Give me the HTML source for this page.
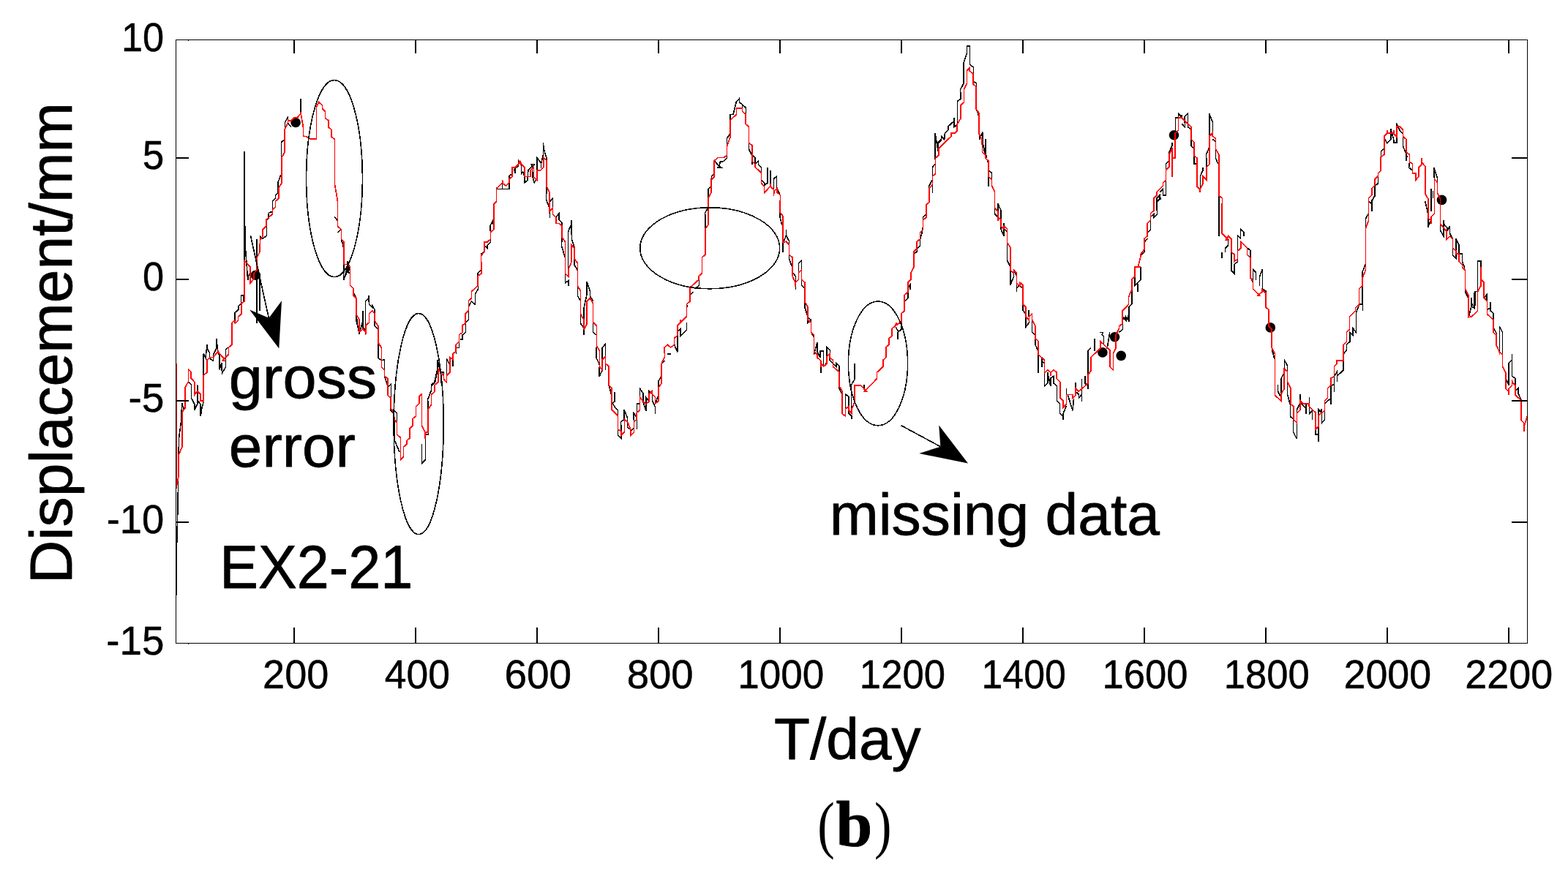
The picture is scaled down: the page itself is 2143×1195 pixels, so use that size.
<!DOCTYPE html>
<html lang="en"><head><meta charset="utf-8"><title>Displacement EX2-21 (b)</title>
<style>html,body{margin:0;padding:0;background:#fff}body{width:2143px;height:1195px;overflow:hidden}svg{display:block}text{font-family:"Liberation Sans",sans-serif;fill:#000;stroke:#000;stroke-width:0.8px;stroke-linejoin:round}.tk{stroke-width:0.5px}.serif{font-family:"Liberation Serif",serif}</style>
</head><body>
<svg role="img" aria-label="Displacement versus time for EX2-21" width="2143" height="1195" viewBox="0 0 2143 1195">
<rect x="0" y="0" width="2143" height="1195" fill="#fff"/>
<g fill="none" stroke="#000" stroke-width="1.6" stroke-linejoin="miter" stroke-linecap="butt" shape-rendering="crispEdges">
<polyline points="241,814 241.5,750 243,693 244.5,600 247.4,577 248.8,551"/>
<polyline points="248.9,551.1 250.8,559.5 252.9,556.7"/>
<polyline points="257.4,522.2 261.3,525.8 261.3,544 265.9,552.5 265.9,560.9 269.7,552.5 269.7,526.5 270.4,548.2 274.2,552.5 274.2,569.3 276.1,556.7 278.2,549.7"/>
<polyline points="278.2,513.1 278.2,483.6 281,489.2 283.1,470.9 283.8,478 286.6,482.2 286.6,489.9 291.5,493.4 291.5,485 295.7,476.6 295.7,463.2 297.9,480.8 300,486.4 300,505.4 302.8,496.2 303.5,510.3 308.4,501.9 308.4,478 311.9,475.1"/>
<polyline points="321.1,441.7 321.1,427.6 325.8,423.4 325.8,419.2 329.6,415 329.6,403.7 333.1,403.7 333.1,412.1"/>
<polyline points="334.2,207.2 334.2,357"/>
<polyline points="334.2,280 335.2,336.2 338.7,382.6 338.7,378.4 342.2,372.8"/>
<polyline points="350.7,327.1 350.7,441.7"/>
<polyline points="352.8,370 354.9,381.2 354.9,424.8"/>
<polyline points="355.6,327.8 355.6,322.9 359.1,326.4 364.3,322.2 364.3,301.1 366.8,298.3 367.5,290.5 372.5,289.8 372.5,280"/>
<polyline points="457.2,296.6 461.4,301.8"/>
<polyline points="461.4,318 466.4,313.7"/>
<polyline points="466.4,328.5 468.8,333.4 468.8,337.6"/>
<polyline points="475.1,356.6 475.1,364.3 469.5,383.3 477.2,364.3 478.6,371.4"/>
<polyline points="487,430.4 489.1,448"/>
<polyline points="495.5,424.8 495.5,448"/>
<polyline points="372.5,288 372.5,274.6 376.4,271.1 376.4,266.9 380.2,263.4 380.2,248.6 383.7,239.5"/>
<polyline points="384.4,214.9 384.4,194.5 389.3,190.3"/>
<polyline points="389.3,176.2 389.3,167.8 393.5,159.4 393.5,168.5 397.8,173.4"/>
<polyline points="410.7,134.8 410.7,153"/>
<polyline points="470.1,361.4 469.4,383.2 474.3,368.4 477.1,374.1 475,364.2"/>
<polyline points="482.7,399.4 486.9,407.8"/>
<polyline points="486.9,429.6 486.9,438.7 491.1,455.6 495.8,439.4 495.8,424.7 495.8,447.9 499.6,451.4 499.6,412 503.8,407.8 503.8,403.6 504.5,416.2 508.7,420.4 508.3,416.2 512.2,424 512.2,428.9"/>
<polyline points="512.2,438.7 512.2,445.8 516.7,450"/>
<polyline points="516.7,468.2 516.7,489.3 521.4,492.8 525.6,491.4 525.6,506.2"/>
<polyline points="525.6,514.6 530.1,528"/>
<polyline points="530.1,529.5 534.3,525.3 534.3,543.6"/>
<polyline points="533.7,557.6 533.7,561.2 538.2,565.4 538.2,560.4 542.5,564.7 542.5,577.3"/>
<polyline points="538.9,573.8 538.9,601.2 546,618.1"/>
<polyline points="576.5,606.8 576.5,633.6 581.5,628.6 581.5,599.8"/>
<polyline points="581.8,594.2 585.3,594.2 585.3,591.4"/>
<polyline points="585.3,559 584.6,546.4 589.6,533 589.6,526 593.8,522.5 598,504.2"/>
<polyline points="589.6,528 594.5,523.1 598,504.8 598,492.1 600.1,500.6 602.2,509 606.4,509 606.4,513.9"/>
<polyline points="602.2,509 603.6,528"/>
<polyline points="610.6,513.2 610.6,491.4 614.9,498.5 614.9,488.6"/>
<polyline points="619.1,483.7 619.1,501.3"/>
<polyline points="623.3,480.2 623.3,484.4"/>
<polyline points="624,475.3 627.5,475.3 627.5,467.5"/>
<polyline points="628.9,464 631.7,464 631.7,458.4 636.4,454.2 636.4,442.2"/>
<polyline points="636.4,440.8 640.4,437.3 640.4,424.7"/>
<polyline points="640.4,419 644.4,412 649.3,416.2 649.3,402.2 653.5,395.1 653.5,390.9"/>
<polyline points="652.8,377.6 652.8,373.4 657.7,369.1"/>
<polyline points="657.4,349.7 657.4,347.6 661.3,344.1"/>
<polyline points="661.7,335 666.2,339.9 666.2,335.7 670.4,331.4 670.4,327.2"/>
<polyline points="670.4,317.4 669.7,309 674,301.2 674.7,313.9"/>
<polyline points="678.6,258.3 695.7,258.3 695.7,249.9"/>
<polyline points="686.6,249.9 686.6,258.3"/>
<polyline points="695.7,245 695.7,240.8 699.3,238"/>
<polyline points="704.2,228.8 704.2,237.3 702.8,231.6 708.4,226.7 708.4,219.7 712.6,226 712.6,237.3 714.7,235.1 716.8,241.5 716.8,249.9 721.1,246.4 721.8,233 727.4,226.7 726,224.6 730.2,224.6 727.4,229.5 728.1,242.2 730.2,249.9 733.7,243.6"/>
<polyline points="733.7,233 733.7,215.5 739.3,222.5 739.3,230.2"/>
<polyline points="740,222.5 742.4,211.2 742.4,195.2 743.1,202.8 745,209.8 747.1,216.9 747.1,219.7"/>
<polyline points="747.1,255.5 746.4,272.4 749.9,281.5 751.3,275.9 755.5,271 755.5,284.3"/>
<polyline points="751.3,289.3 751.3,297.7"/>
<polyline points="759.7,297 763.9,292.1 763.9,300.5 768.1,304.7 768.1,309"/>
<polyline points="768.1,324.4 767.4,335.7 772.4,352.5"/>
<polyline points="776.6,368 776.6,316.7 780.8,306.8 780.8,301.2 781.5,327.9 785,337.8"/>
<polyline points="785,353.9 785,361.7 788.5,368"/>
<polyline points="772.4,373.7 772.4,387.1 776.8,383.6 776.8,390.6"/>
<polyline points="784.5,354.1 784.5,361.1 789.1,369.5"/>
<polyline points="789.4,391.3 789.4,404.7 793.6,411.7"/>
<polyline points="793.6,429.3 793.6,442.6 797.9,448.2 797.9,458.1"/>
<polyline points="797.9,437 797.9,422.2 802.1,401.9 802.1,385 806.3,397.6 806.3,404.7 810.5,411.7"/>
<polyline points="810.5,440.5 810.5,453.9 814.7,458.1"/>
<polyline points="815.4,472.8 814.7,489 819.6,498.9 818.9,508"/>
<polyline points="823.2,491.8 823.2,475 827.4,470.7 827.4,505.2"/>
<polyline points="814.7,480 814.7,489.1 818.9,496.9"/>
<polyline points="818.9,501.6 818.9,515.1 823.2,505.9"/>
<polyline points="827.4,497.4 827.4,506"/>
<polyline points="832.3,527.1 836.1,541.9"/>
<polyline points="840,535.5 840,548.9 837.2,551 840.7,557.3 844.5,560.8 844.5,568.6"/>
<polyline points="844.5,587.5 844.5,595.3 849.2,599.5 849.2,594.6"/>
<polyline points="849.2,589.7 848.5,577 853,573.5 853,560.1 857.6,571.4 857.6,584 861.8,587.5"/>
<polyline points="861.8,589.7 866,585.4"/>
<polyline points="866.5,577 865.6,563.6 870.3,571.4 870.3,586.8"/>
<polyline points="870.3,564.3 870.3,551.7 874.5,551.7 874.5,531.3 878.7,537.6 878.7,548.9 882.9,561.5 882.9,543.3 887.1,548.9"/>
<polyline points="887.1,539 887.1,534.8 891.3,539 891.3,547.5 895.6,556.6 895.6,565.8"/>
<polyline points="895.6,551.7 899.1,541.9"/>
<polyline points="900.2,529.9 899.8,521.5 903.3,515.1"/>
<polyline points="904.3,496.9 908.5,493.4"/>
<polyline points="912.4,483.8 916.6,483.8"/>
<polyline points="921.6,471.4 925.8,481.3 925.8,458.8"/>
<polyline points="925.8,453.9 930,449.7 930,459.5 938.4,451.1 938.4,441.2"/>
<polyline points="938.4,415.9 939.8,420.1"/>
<polyline points="942.7,403.3 947.6,399"/>
<polyline points="949.7,394.8 955.3,390.6 955.3,382.2"/>
<polyline points="964,312.9 963.7,291.1 967.5,284.1"/>
<polyline points="967.8,271.1 967.8,258.5 972,254.3"/>
<polyline points="972,245.8 972.7,240.9 976.3,237.4"/>
<polyline points="976.3,219.8 982.3,226.8 982.3,229 980.2,229 985.8,229 983,226.8 984.4,221.2 989.3,220.5 993.5,216.3 993.5,212.1"/>
<polyline points="993.5,200.1 993.5,189.6 998,181.9"/>
<polyline points="998,164.3 998,156.6 1002,156.6 1006.2,139.7 1010.4,134.8 1010.4,139.7 1019.6,147.4 1019.6,155.8"/>
<polyline points="1014.6,148.1 1014.6,143.9"/>
<polyline points="1023.5,195.2 1023.5,204.3 1027.7,212.1 1032.2,215.6 1032.2,224 1036.4,219.8 1036.4,224.7 1040.6,229 1040.6,236.7"/>
<polyline points="1027.7,220.5 1027.7,224.7"/>
<polyline points="1040.6,245.8 1044.9,250.7 1044.9,253.6 1049.1,250 1049.1,229"/>
<polyline points="1052.9,250.7 1052.9,233.2"/>
<polyline points="1057.5,259.2 1057.5,244.4 1061.4,240.9 1061.4,257.8"/>
<polyline points="1061.7,257.8 1065.9,265.5"/>
<polyline points="1065.9,289.7 1065.9,296.7 1068.8,308"/>
<polyline points="1070.2,331.2 1070.2,344.5"/>
<polyline points="1070.4,331.9 1074.4,322 1074.4,314.3 1074.4,322 1078.6,329.7 1078.6,334.7"/>
<polyline points="1078.6,348 1078.6,354.3 1082.8,365.6"/>
<polyline points="1083.1,372.6 1087.3,377.5 1087.3,395.8"/>
<polyline points="1091.5,372.6 1091.5,360 1095.5,355.8 1095.5,369.1"/>
<polyline points="1095.5,382.5 1095.5,390.2 1100,394.4"/>
<polyline points="1100,412.7 1100,421.1 1103.9,433.1 1108.1,437.3"/>
<polyline points="1100,420 1103.9,431.2"/>
<polyline points="1103.9,436.9 1103.9,441.1 1108.4,436.9 1108.4,441.1"/>
<polyline points="1108.4,454.4 1112.6,460.8"/>
<polyline points="1112.6,480.4 1112.6,484.7 1116.8,467.8 1116.8,480.4 1121.1,488.9 1121.1,479.7 1125.6,479.7 1125.6,500.8 1129.5,496.6 1130.2,474.8 1134.4,479 1134.4,484"/>
<polyline points="1121.8,501.5 1121.8,510"/>
<polyline points="1133.7,488.9 1133.7,492.4 1138.6,497.3 1142.8,501.5 1142.8,496.6 1147.1,500.8 1147.1,508.6"/>
<polyline points="1147.1,528.2 1147.1,531.1 1149.9,537.4"/>
<polyline points="1155.5,559.2 1155.5,538.8 1159.7,542.3 1159.7,555.7"/>
<polyline points="1159.7,560.6 1159.7,564.8 1163.9,569 1163.9,573.2"/>
<polyline points="1163.9,564.8 1163.2,526.8 1168.1,518.4 1168.1,496.6"/>
<polyline points="1181.1,526.1 1181.1,531.1"/>
<polyline points="1224.4,447.4 1227.9,453.7 1232.1,450.2 1232.1,441.1"/>
<polyline points="1227.2,453.7 1227.2,463.6"/>
<polyline points="1236.1,412 1240.7,407.8 1240.7,399.3"/>
<polyline points="1240.7,395.1 1244.2,388.8 1244.2,395.8"/>
<polyline points="1249.2,347.3 1253.4,343.8 1253.4,340.3 1257.6,336.1 1257.6,326.9 1260.4,317.1 1260.4,310.8"/>
<polyline points="1261.4,300.9 1261.4,296.7 1265.3,293.2"/>
<polyline points="1274.5,263.5 1274.5,252.5"/>
<polyline points="1269.8,257.6 1269.4,255.1 1274,246.2"/>
<polyline points="1274.5,240.7 1274.5,228.5 1278,224.2"/>
<polyline points="1278.5,216.2 1278.5,190"/>
<polyline points="1281.6,206.9 1281.6,195.1 1286.7,190"/>
<polyline points="1278.1,218 1278.1,182.1 1281.6,203.2 1282.3,195.5 1286.5,192 1286.5,186.4 1290.7,190.6 1291.4,182.1 1295.7,177.9 1295.7,173 1304.1,165.3 1304.1,161.1 1304.1,173.7 1308.3,170.2 1308.3,138.6 1313.2,135.1 1312.5,122.4 1316.7,114.7 1316.7,87.3 1321.4,72.5 1321.4,62.7 1325.5,62.7 1325.5,88 1330.4,92.2 1330.4,100.6"/>
<polyline points="1329.7,110.4 1334.3,114 1334.3,118.2"/>
<polyline points="1333.9,149.1 1337.1,155.4 1337.5,161.1"/>
<polyline points="1338.5,183.6 1338.5,191.3 1342.7,180.7 1342.7,190.6"/>
<polyline points="1342.3,196.2 1347,208.2 1347,189.9 1347,212.4"/>
<polyline points="1343.3,190 1343.7,198.5 1345.9,209.4"/>
<polyline points="1347.5,190 1347.5,211.1 1348.8,216.2"/>
<polyline points="1349.2,222.1 1350.9,220"/>
<polyline points="1351.4,233.1 1355.6,236.5 1355.6,245.4"/>
<polyline points="1350.9,241.5 1350.9,254.6"/>
<polyline points="1359.5,284.8 1359.5,292.5 1363.7,296.7"/>
<polyline points="1363.7,289 1363.7,278.4 1368,287.6 1368,300.2"/>
<polyline points="1368,309.4 1368,313.6 1372.2,322.7 1372.2,305.1 1372.5,312.9 1375.7,316.4"/>
<polyline points="1376.4,331.9 1376.4,355.8 1380.6,364.2"/>
<polyline points="1381.3,369.8 1380.6,390.2 1385.5,378.2 1385.5,368.4 1389,376.8"/>
<polyline points="1389.5,387.4 1389.5,399.3 1389.7,393.7 1393.3,389.5 1397.5,394.4"/>
<polyline points="1398.2,416.2 1397.5,423.2 1401.7,429.6"/>
<polyline points="1405.9,433.1 1405.9,423.9"/>
<polyline points="1397.9,420 1397.9,424.2 1402.2,428.4"/>
<polyline points="1402.2,433.4 1402.2,446.7 1406.4,441.1 1406.4,424.2"/>
<polyline points="1410.6,437.6 1410.6,454.4 1414.8,458"/>
<polyline points="1414.8,462.9 1414.8,470.6 1419,480.4"/>
<polyline points="1419,484.7 1419,510"/>
<polyline points="1424,490.3 1424,502.2 1424,493.1 1427.5,497.3"/>
<polyline points="1427.5,510 1427.5,527.5 1431.7,524 1431.7,509.3 1435.9,528.2 1435.9,517 1440.1,514.2 1440.1,524 1444.3,527.5 1444.3,547.9 1448.6,552.1 1448.6,564.8 1452.8,569 1452.8,573.9 1452.8,566.2 1457.4,555"/>
<polyline points="1457.4,539.5 1457.4,531.1"/>
<polyline points="1459.1,539.5 1466.1,561.3 1467.5,545.1"/>
<polyline points="1470.1,531.1 1470.1,522.6"/>
<polyline points="1470.1,535.3 1474.6,539.5 1474.6,543.7 1478.5,539.5 1478.5,548.6 1478.5,518.4"/>
<polyline points="1483,514.2 1483,524 1486.9,527.5 1486.9,531.8 1486.9,524"/>
<polyline points="1486.9,512.8 1486.9,479.7 1491.4,475.5"/>
<polyline points="1495.7,462.9 1495.7,480.4"/>
<polyline points="1503.4,454.4 1507.6,454.4 1506.2,457.3 1508.6,460.1 1508.6,470.6"/>
<polyline points="1517.2,479 1513.2,476.2 1516,459.4 1516.7,454.4"/>
<polyline points="1529.4,454.4 1534.3,450.2 1534.3,442.5"/>
<polyline points="1534.3,436.9 1538.5,433.4 1542.7,438.3 1542.7,420"/>
<polyline points="1534.5,433.1 1538.7,438 1538.7,433.1 1542.2,438 1542.5,420.4 1547.2,415.5 1547.2,399.3 1546.7,396.5"/>
<polyline points="1550.9,378.2 1550.9,390.9 1559.1,382.5 1559.1,364.9"/>
<polyline points="1555.2,388.1 1555.2,399.3"/>
<polyline points="1559.1,348.7 1564,344.5 1564,341"/>
<polyline points="1564.7,330.4 1568.2,326.2"/>
<polyline points="1568.2,317.8 1572.5,314.3 1572.5,300.9"/>
<polyline points="1573.2,296 1577.4,292.5 1576.7,297.4 1581.6,293.2 1581.6,275.6 1585.8,272.1 1585.8,270"/>
<polyline points="1581,288 1581,271.1 1585.2,266.9 1585.2,271.1 1581.7,275.3"/>
<polyline points="1585.2,262.7 1589.4,258.5 1589.4,266.9 1593.4,266.9 1593.4,246.5"/>
<polyline points="1593.6,232.5 1593.6,224 1597.4,220.5"/>
<polyline points="1597.9,211.4 1597.9,207.9 1601.8,199.4 1601.8,195.2"/>
<polyline points="1606.3,181.9 1606.3,160.8 1610.5,160.8 1610.5,155.1 1614.7,160.1 1615.4,156.6"/>
<polyline points="1615.4,169.2 1619.6,174.1 1618.9,160.1 1623.4,155.1 1623.4,173.4 1627.4,176.9"/>
<polyline points="1627.7,190.3 1627.7,199.4 1631.6,202.9"/>
<polyline points="1632,212.8 1632,224 1635.1,224"/>
<polyline points="1640.3,259.2 1640.3,240.9 1644.2,232.5 1644.2,229"/>
<polyline points="1649.2,228.2 1648.5,211.4 1652.7,201.5 1652.7,155.1 1657.3,167.1 1657.3,181.9"/>
<polyline points="1657.3,190.3 1661.1,193.8"/>
<polyline points="1661.5,203.6 1661.5,216.3 1664.6,224"/>
<polyline points="1666,267.6 1666,288"/>
<polyline points="1665.9,270 1665.9,322.7"/>
<polyline points="1669.7,344.5 1669.7,352.9"/>
<polyline points="1674.4,344.5 1674.4,339.6 1678.6,335.4 1678.6,327.6"/>
<polyline points="1682.8,344.5 1682.8,369.8 1687,374 1687,361.4 1691.5,357.9 1691.5,354.3"/>
<polyline points="1691.5,343.1 1691.5,322 1695.5,326.2 1695.7,313.6 1700,317.8 1700,322.7"/>
<polyline points="1704.6,338.9 1708.8,342.4 1708.8,352.2"/>
<polyline points="1708.8,379.7 1712.3,385.3 1712.6,368.4 1716.6,372.6 1716.6,382.5"/>
<polyline points="1721.5,390.9 1721.5,378.2 1725.4,368.4 1725.4,395.1 1729.9,398.6"/>
<polyline points="1725.4,394.8 1730.3,398.3 1730.3,401.8"/>
<polyline points="1738.3,477 1742.2,491.1"/>
<polyline points="1738.7,480 1742.2,491.2"/>
<polyline points="1755.3,504.6 1755.3,492.7 1759.5,499.7 1759.5,508.1"/>
<polyline points="1755.3,509.5 1750.7,518 1750.7,539"/>
<polyline points="1746.4,526.4 1746.4,534.8 1750,541.9"/>
<polyline points="1759.5,522.2 1759.5,539 1763.3,553.1 1763.3,569.3 1767.5,572.8 1767.5,590.4 1772.5,600.2 1772.5,577.7"/>
<polyline points="1772.5,565.1 1772.5,560.1 1776.7,551.7"/>
<polyline points="1776.7,547.5 1776.7,539"/>
<polyline points="1777.4,550.3 1785.1,558.7 1785.1,565.8 1785.1,553.1 1789.3,551.7 1789.3,543.3"/>
<polyline points="1789.3,555.9 1789.3,565.8 1793.5,561.5 1793.5,573.5"/>
<polyline points="1798.2,586.8 1797.8,593.9 1802,593.9 1802,603.7 1802,583.3"/>
<polyline points="1802,567.9 1802,560.1 1806.2,564.3 1806.2,559.4 1806.5,578.4 1810.4,574.2 1810.4,561.5"/>
<polyline points="1810.4,551.7 1818.8,544.7 1818.8,553.1 1818.8,528.5 1823.5,525 1823.5,535.5 1823.5,514.4 1827.3,508.1 1827.3,522.2 1827.3,514.4 1836.1,506 1836.1,492.7"/>
<polyline points="1836.1,484 1840.6,478.4 1840.6,470.7 1844.9,467.2 1844.9,454.5 1849.1,458.7 1849.1,448.9 1853.3,454.5 1853.3,427.8 1857.5,416.6"/>
<polyline points="1857.5,415.8 1862.4,415.8 1862.4,425 1862.4,390.5"/>
<polyline points="1857.8,415.9 1862,415.9 1862,390.6"/>
<polyline points="1862,380 1862,372.3 1866.2,361.1"/>
<polyline points="1866.6,311.9 1866.6,298.5 1870.4,292.2"/>
<polyline points="1870.4,275.3 1874.7,279.5 1874.7,288.7 1874.7,274.6 1879.3,267.6 1879.3,253.5 1883.8,250"/>
<polyline points="1870.4,275.2 1874.7,278 1874.7,275.2 1878.9,267.5 1878.9,254.8 1883.5,250.6 1883.5,240.7"/>
<polyline points="1887.3,214.7 1887.3,207 1891.5,202.8"/>
<polyline points="1892.2,188.7 1895.7,195.8 1900.7,190.8 1900.7,176.1 1904.9,191.5 1904.9,195.1 1909.1,195.1 1909.1,187.3"/>
<polyline points="1909.1,173.3 1908.4,168.3 1913.3,178.9 1916.8,182.4"/>
<polyline points="1917.5,186.6 1917.5,200 1922.2,211.2 1922.2,220.4 1922.2,214 1923.9,214"/>
<polyline points="1926.4,221.8 1925.6,228.8 1930.2,233"/>
<polyline points="1960.4,245 1959.7,229.5 1964.4,243.6 1964.4,249.2"/>
<polyline points="1947.8,275.3 1951.7,292.2"/>
<polyline points="1951.7,298.5 1951.7,310.4 1955.5,302"/>
<polyline points="1955.9,258.4 1955.9,288.7"/>
<polyline points="1958.3,260.5 1958.3,271.1"/>
<polyline points="1968.4,306.2 1968.4,314.7 1973.1,323.1 1973.1,301.3 1973.1,306.2 1978,311.2 1978,316.1 1981.5,309 1981.5,318.9 1985.4,326.6"/>
<polyline points="1985.4,339.3 1985.4,349.1 1989.9,353.3 1989.9,326.6 1994.2,335.1 1994.2,347"/>
<polyline points="1994.2,347 1998.4,347 1998.4,357.5 2001.9,366.7"/>
<polyline points="2002.6,394.8 2002.6,399 2006.8,407.5"/>
<polyline points="2011,407.5 2011,414.5 2013.1,418"/>
<polyline points="2015.9,418 2015.9,398.3 2019.5,398.3 2019.5,356.8 2024,356.8 2024,365.3"/>
<polyline points="2028.3,407.5 2032.1,403.2 2032.1,410.3"/>
<polyline points="2003.3,400 2006.8,407"/>
<polyline points="2011,407 2011,418.3 2015.2,421.8 2015.2,400"/>
<polyline points="2011,418.3 2007.5,432.3"/>
<polyline points="2032.5,411.9 2028.6,407 2032.5,402.1 2032.5,411.9"/>
<polyline points="2032.5,423.2 2036.7,421.1 2036.7,412.7 2036.7,424.6 2041.2,428.8 2041.2,437.3"/>
<polyline points="2041.2,447.8 2045.4,456.2 2045.4,458.3"/>
<polyline points="2049.4,481.5 2049.4,446.4 2053.4,454.1 2053.4,484.3"/>
<polyline points="2057.8,509.7 2057.8,516.7 2061.9,526.5 2061.9,496.3 2066.5,492.1 2066.5,484.3 2066.5,513.9 2070.7,517.4 2070.7,526.5"/>
<polyline points="2070.7,535 2075,530.7 2075,537.8 2079.2,547.6"/>
</g>
<g fill="#000">
<circle cx="349.3" cy="376.3" r="6.8"/>
<circle cx="404.1" cy="167.5" r="6.8"/>
<circle cx="1506.9" cy="481.9" r="6.8"/>
<circle cx="1523.5" cy="460.8" r="6.8"/>
<circle cx="1532.2" cy="486.4" r="6.8"/>
<circle cx="1604.5" cy="184.7" r="6.8"/>
<circle cx="1736.3" cy="447.9" r="6.8"/>
<circle cx="1970.5" cy="273.4" r="6.8"/>
</g>
<polyline shape-rendering="crispEdges" fill="none" stroke="#f00" stroke-width="1.75" stroke-linejoin="miter" points="240.8,497 240.8,667.8 244,650.7 244,622.3 248.8,611 248.8,563.7 252.9,558.1 252.9,530 257.4,522.2 257.4,504.7 261.3,508.9 261.3,517.3 265.9,522.2 265.9,539.8 269.7,534.9 274.2,539.1 274.2,548.2 278.2,548.2 278.2,513.1 283.1,508.9 283.1,492 288,488.5 291.5,488.5 297.9,480.8 306.3,490.6 312.6,484.3 312.6,475.1 317.3,470.9 317.3,441.4 316.6,441.7 320.4,438.2 321.8,441.7 325.4,438.2 325.4,433.2 330.3,429 330.3,414.3 334.2,412.1 334.2,356.6 342.2,365.1 342.2,386.8 347.2,381.2 347.2,373.5 350.7,370 350.7,353.1 354.9,344.7 355.6,327.8 359.1,322.9 359.1,313.7 363.7,309.5 363.7,300.4 372.5,292.7 372.5,286.3 376.4,283.5 376.4,280 376.4,275.3 381.3,271.1 381.3,256.4 385.1,250 385.1,214.9 389.3,207.9 389.3,176.2 393.5,168.5 393.5,165 397.8,165 402,160.8 406.2,160.8 410.7,155.8 410.7,153 414.6,174.8 414.6,186.1 418.8,186.8 421.7,188.9 423.8,190.3 432.5,190.3 432.5,146 435.7,139.7 440.6,143.9 440.6,148.8 444.6,152.3 444.6,161.5 449.1,165 449.1,174.1 453.3,177.6 453.3,187.5 457.5,190.3 457.5,252.1 461.4,274.6 461.4,288 461.4,309.5 466.4,313.7 466.4,327.1 470.2,330.6 470.2,361.5 475,361.4 478.5,364.9 478.5,390.2 482.7,394.4 482.7,403.6 486.9,407.8 486.9,429.6 491.1,437.3 491.1,453.5 495.8,450 499.6,453.5 499.6,458.4 500,445.1 504.5,440.8 504.5,428.9 508.7,424.7 512.2,428.9 512.2,438.7 516.7,445.8 516.7,468.2 521.4,475.3 521.4,502 525.6,506.2 525.6,514.6 530.1,517.5 530.1,540.8 533.7,543.6 533.7,557.6 538.2,564.7 538.9,573.8 542.5,577.3 542.5,594.2 547.4,598.4 547.4,628.6 551.6,624.4 551.6,611.1 555.8,607.5 555.8,602.6 560,599.1 560,585.8 564.2,582.2 564.2,572.4 568.5,568.9 568.5,556.2 572.7,552 572.7,542.2 576.5,538.7 576.5,582.2 580.8,590.7 581.1,599.8 581.5,591.4 585.3,590.7 585.3,559 589.6,553.4 589.6,539.4 593.8,535.8 593.8,526.7 598.7,522.5 598.7,504.2 606.4,513.4 606.4,518.3 610.6,523.2 610.6,513.2 614.9,509 614.9,488.6 619.1,491.4 619.1,483.7 623.3,480.2 623.3,471.1 627.5,467.5 627.5,457.7 631.7,454.9 631.7,445.1 635.9,442.2 635.9,428.9 640.4,424.7 640.4,411.3 644.4,407.8 644.4,398.7 652.8,390.9 652.8,377.6 657.7,374.1 657.7,360 657.4,349.7 661.7,344.8 661.7,330.7 666.2,330.7 670.4,327.2 670.4,317.4 674.7,313.9 674.7,279.4 678.6,275.2 678.6,257.6 686.6,249.9 686.6,246.4 686.9,250.6 691.5,254.1 695.7,249.9 695.7,245 700,241.5 700,228.8 704.2,228.8 710.5,222.5 716.8,228.8 716.8,241.5 725.3,241.5 725.3,232.3 729.5,228.8 729.5,242.2 733.7,246.4 733.7,233 738.6,233 742.8,228.8 742.8,215.5 747.1,219.7 747.1,255.5 751.3,263.3 751.3,289.3 755.5,284.3 755.5,292.8 759.7,297 759.7,305.4 763.9,305.4 768.1,309 768.1,324.4 772.4,330.7 772.4,373.7 776.8,378 776.8,368.1 780.8,358.9 780.8,335 785,339.2 785,353.9 789.4,359.7 789.4,391.3 793.6,397.6 793.6,429.3 797.9,437 797.9,451.1 802.1,442.6 802.1,411.7 806.3,407.5 810.5,414.5 810.5,440.5 815.4,445.4 815.4,472.8 819.6,479.9 819.6,501.6 823.2,505.9 823.2,491.8 827.4,487.6 827.4,497.4 832.3,500.7 832.3,527.1 836.1,530.6 836.1,560.1 844.5,568.6 844.5,587.5 849.2,589.7 849.2,594.6 853.4,590.4 853.4,573.5 857.6,577 861.8,587.5 861.8,595.3 866.5,591.1 866.5,577 870.3,573.5 870.3,564.3 874.5,560.8 874.5,542.6 878.7,548.9 882.9,552.4 887.1,548.9 887.1,539 891.3,534.8 891.3,539 895.6,543.3 895.6,551.7 900.2,548.2 900.2,529.9 904.3,523.6 904.3,496.9 908.5,488.4 908.2,475 912.4,471.4 916.6,475 921.6,471.4 921.6,462.3 925.8,458.8 925.8,445.4 930,441.2 930,437 930.4,440.8 938.4,432.8 938.4,415.9 942.7,412.4 942.7,393.4 955.3,382.2 955.3,377.3 959.5,373.7 959.5,351.9 964,348.4 964,348 964,312.9 968.2,306.6 967.8,271.1 972,263.4 972,245.8 976.3,241.6 976.3,219.8 980.9,215.6 989.3,215.6 993.5,212.1 993.5,200.1 998,187.5 998,164.3 1006.5,156.6 1006.5,148.1 1014.6,148.1 1014.6,152.3 1018.8,155.8 1018.8,169.2 1023.5,173.4 1023.5,195.2 1027.7,198.7 1027.7,220.5 1031.9,224 1031.9,228.2 1040.6,236.7 1040.6,250.7 1044.6,255 1044.6,263.4 1052.6,255 1052.6,250.7 1052.9,255 1057.5,259.2 1057.5,267.6 1057.8,262 1061.7,257.8 1061.7,262.7 1066.6,266.9 1065.9,289.7 1070.2,296 1070.2,331.2 1074.4,330.4 1078.6,334.7 1078.6,348 1083.1,352.2 1083.1,377.5 1087,386.7 1087,392.3 1087.3,386 1091.5,381.8 1091.5,372.6 1095.5,369.1 1095.5,382.5 1100,386 1100,412.7 1103.9,419.7 1103.9,436.9 1108.4,441.1 1108.4,454.4 1112.6,458 1112.6,480.4 1116.8,484.7 1116.8,488.9 1121.8,493.1 1121.8,501.5 1122,497.3 1126,500.8 1130.2,497.3 1130.2,487.5 1133.7,484 1133.7,488.9 1138.6,492.4 1138.6,501.5 1147.1,508.6 1147.1,528.2 1151,534.6 1151,565.5 1155.5,569 1155.5,559.2 1159.7,555.7 1159.7,560.6 1163.9,564.8 1163.9,559.9 1167.9,550 1167.9,526.8 1176.6,526.8 1182.9,533.9 1198.4,517.7 1198.4,509.3 1206.8,501.5 1206.8,492.4 1210.7,488.9 1210.7,474.8 1215.2,471.3 1215.2,462.2 1219.2,459.4 1219.2,449.5 1225.8,443.2 1232.1,441.1 1232.1,428.4 1236.3,424.9 1236.1,403.6 1240.7,399.3 1240.7,386 1244.7,382.5 1244.7,373.3 1248.9,365.6 1248.9,343.8 1253,340.3 1253,330.4 1257.6,326.9 1257.6,317.8 1261.4,314.3 1261.4,300.9 1266,297.4 1266,279.8 1270.3,276.3 1270.1,257.6 1274.5,252.5 1274.5,240.7 1278.5,237.7 1278.5,216.2 1283.3,212 1283.3,202.7 1299.9,186.4 1299.9,182.1 1304.8,182.1 1308.3,178.6 1308.3,169.5 1313.2,161.8 1313.2,143.5 1317.4,140 1317.4,122.4 1321.4,114.7 1321.4,96.4 1325.2,92.9 1325.2,97.1 1329.7,100.6 1329.7,114.7 1333.9,118.2 1333.9,149.1 1338.1,154.7 1338.1,183.6 1342.3,190.6 1342.5,208.2 1346.7,211.5 1346.7,216.2 1350.9,220 1350.9,241.5 1355.6,245.4 1355.6,254.6 1359.6,261.8 1359.6,284.2 1363.7,289 1363.7,301.6 1364,297.4 1368,300.2 1368,309.4 1372.2,312.9 1372.2,309.4 1376.4,312.9 1376.4,331.9 1381.3,338.9 1381.3,369.8 1385.5,373.3 1385.5,369.8 1389.5,373.3 1389.5,387.4 1393.7,390.9 1393.7,386 1398.2,390.2 1398.2,416.2 1401.7,419.7 1402.2,433.4 1406.4,437.6 1406.4,432.7 1410.6,429.1 1410.6,437.6 1414.8,445.3 1414.8,462.9 1419,466.4 1419,484.7 1427.5,492.4 1427.5,510 1431.7,505.8 1435.9,509.3 1435.9,514.2 1436.2,509.3 1440.1,505.8 1444.3,509.3 1444.3,517.7 1449.3,522.6 1449.3,544.4 1453.2,547.9 1453.2,557.1 1457.4,552.8 1457.4,539.5 1466.1,539.5 1466.1,544.4 1470.1,540.2 1470.1,531.1 1474.3,535.3 1486.9,524 1486.9,512.8 1491.2,506.5 1491.2,488.2 1504.1,476.2 1504.1,467.1 1517.2,479 1517.2,501.5 1521.4,505.8 1521.4,483.3 1525.2,476.2 1525.2,457.3 1529.4,449.5 1529.4,446 1534.3,442.5 1534.3,424.9 1542.5,416.2 1542.5,405.7 1546.7,396.5 1546.7,381.8 1550.9,378.2 1550.9,364.9 1559.1,364.9 1555.6,364.2 1559.1,350.1 1559.1,347.3 1564,341 1564,326.2 1568.2,322.7 1568.2,305.1 1572.5,300.9 1572.5,291.8 1576.7,288.3 1576.8,271.1 1581,266.9 1581,262.7 1589.4,254.3 1589.4,250 1593.6,246.5 1593.6,232.5 1597.9,228.2 1597.9,211.4 1602.1,202.2 1602.1,241.6 1602.4,216.3 1606.3,216.3 1606.3,181.9 1610.5,178.3 1610.5,160.8 1614.7,160.8 1627.7,173.4 1627.7,190.3 1632,194.5 1632,212.8 1636.1,216.3 1636.1,255 1640.3,259.2 1640.3,263.4 1640.7,257.1 1644.2,250.7 1644.2,240.9 1649.2,246.5 1649.2,228.2 1653.1,224.7 1653.1,186.1 1657.3,181.9 1657.3,186.1 1661.5,189.6 1661.5,203.6 1666,212.1 1666,267.6 1670.5,271.1 1669.7,318.5 1677.2,326.2 1678.6,322.7 1682.8,326.9 1682.8,344.5 1687,348 1687,357.2 1691.5,354.3 1691.5,343.1 1695.7,339.6 1695.7,330.4 1704.6,338.9 1704.6,348 1708.8,352.2 1708.8,379.7 1712.6,383.9 1712.6,395.1 1720.1,402.8 1725,399.3 1725,395.8 1729.9,400.7 1729.9,420.1 1734.1,423.6 1734.1,446.1 1738.3,450.3 1738.3,475.6 1742.5,484 1742.5,540.4 1750.7,548.2 1750.7,539 1755.3,531.3 1755.3,504.6 1759.5,508.1 1759.5,522.2 1764,530.6 1764,552.4 1768.2,555.9 1768.2,574.2 1772.5,577.7 1772.5,565.1 1776.7,560.8 1776.7,547.5 1780.9,551.7 1789.3,551.7 1789.3,555.9 1798.2,564.3 1798.2,586.8 1802,583.3 1802,567.9 1810.4,561.5 1810.4,548.2 1814.6,544 1814.6,530.6 1818.8,527.1 1818.8,517.3 1823.5,514.4 1823.5,501.1 1827.3,496.9 1827.3,492.7 1836.1,492.7 1836.1,471.4 1840.6,467.2 1840.6,453.8 1844.6,450.3 1844.6,432.7 1852.6,425 1852.6,420.8 1857.5,416.6 1857.5,394.8 1862.4,390.5 1862,380 1866.6,368.8 1866.6,311.9 1870.4,302 1870.4,271 1874.7,266.7 1874.7,257.6 1878.9,253.4 1878.9,245 1883.5,240.7 1883.5,237.2 1887.3,233 1887.3,214.7 1892.2,211.2 1892.2,185.9 1895.7,182.4 1895.7,178.2 1896.2,181.7 1904.9,181.7 1904.9,178.2 1905.2,183.1 1909.1,187.3 1909.1,173.3 1913.3,173.3 1917.5,177.5 1917.5,186.6 1922.2,190.8 1922.2,208.4 1926.4,211.2 1926.4,221.8 1930.5,223.9 1930.5,237.2 1935.1,237.2 1935.1,245.7 1939.3,241.4 1939.3,228.8 1943.1,224.6 1943.1,216.1 1943.5,222.5 1947.8,227.4 1947.8,264.6 1951.7,271.7 1951.7,298.5 1955.9,301.3 1955.9,305.5 1956.2,296.4 1960.4,292.2 1960.4,245 1964.4,249.2 1964.4,263.9 1968.4,271.7 1968.4,306.2 1977,316.1 1977,327.3 1981.2,323.1 1985.4,326.6 1985.4,339.3 1989.9,342.8 1989.9,347 1993.9,347 1993.9,357.5 1998.4,361.8 1998.4,365.3 2002.6,369.5 2002.6,394.8 2006.8,403.2 2006.8,433.7 2011,433 2019.4,425.3 2019.5,399 2024,390.6 2024,365.3 2024.4,382.1 2028.3,386.4 2028.3,407.5 2032.5,411.9 2032.5,429.5 2041.2,437.3 2041.2,454.8 2045.2,458.3 2045.2,472.4 2049.4,481.5 2049.4,485.1 2049.7,481.5 2053.4,484.3 2053.4,501.2 2057.8,509.7 2057.8,531.4 2061.9,535 2061.9,539.9 2062.3,531.4 2066.5,527.2 2066.5,518.8 2066.8,523 2070.7,526.5 2070.7,539.9 2079.2,547.6 2078.9,574.4 2083.3,578.6 2083.3,590.3 2083.6,580.9 2087.3,569.2"/>
<g fill="#f00" shape-rendering="crispEdges">
<polygon points="1179.9,536 1185.9,536 1182.9,531.4"/>
<polygon points="1222,445.3 1228,445.3 1225,440.7"/>
<polygon points="294.9,483.1 300.9,483.1 297.9,478.5"/>
<polygon points="302.6,494.3 308.6,494.3 305.6,489.7"/>
<polygon points="707.5,223.4 713.5,223.4 710.5,218.8"/>
<polygon points="1674.2,328.5 1680.2,328.5 1677.2,323.9"/>
<polygon points="1717.1,405.2 1723.1,405.2 1720.1,400.6"/>
</g>
<g fill="none" stroke="#000" stroke-width="1.6" shape-rendering="crispEdges">
<ellipse cx="457" cy="244.1" rx="38.4" ry="134.6"/>
<ellipse cx="572.2" cy="579.6" rx="34.1" ry="151.1"/>
<ellipse cx="970.2" cy="339.3" rx="95.5" ry="55.5"/>
<ellipse cx="1200" cy="496.9" rx="40.6" ry="84.9"/>
<line x1="342.4" y1="321.8" x2="367.3" y2="434.7"/>
<line x1="1231.7" y1="581.8" x2="1285.4" y2="610.7"/>
</g>
<polygon fill="#000" points="341.1,423.5 367.5,434.7 385,411.3 381.3,476.6"/>
<polygon fill="#000" points="1283.2,581.5 1285.4,610.7 1256.2,620 1323,633.5"/>
<g fill="#000" shape-rendering="crispEdges">
<rect x="240" y="54" width="1" height="826"/>
<rect x="2087" y="54" width="1" height="826"/>
<rect x="240" y="54" width="1848" height="1"/>
<rect x="240" y="879" width="1848" height="1"/>
<rect x="401" y="858" width="2" height="21"/>
<rect x="401" y="55" width="2" height="18"/>
<rect x="567" y="858" width="2" height="21"/>
<rect x="567" y="55" width="2" height="18"/>
<rect x="733" y="858" width="2" height="21"/>
<rect x="733" y="55" width="2" height="18"/>
<rect x="899" y="858" width="2" height="21"/>
<rect x="899" y="55" width="2" height="18"/>
<rect x="1065" y="858" width="2" height="21"/>
<rect x="1065" y="55" width="2" height="18"/>
<rect x="1231" y="858" width="2" height="21"/>
<rect x="1231" y="55" width="2" height="18"/>
<rect x="1397" y="858" width="2" height="21"/>
<rect x="1397" y="55" width="2" height="18"/>
<rect x="1563" y="858" width="2" height="21"/>
<rect x="1563" y="55" width="2" height="18"/>
<rect x="1729" y="858" width="2" height="21"/>
<rect x="1729" y="55" width="2" height="18"/>
<rect x="1895" y="858" width="2" height="21"/>
<rect x="1895" y="55" width="2" height="18"/>
<rect x="2061" y="858" width="2" height="21"/>
<rect x="2061" y="55" width="2" height="18"/>
<rect x="241" y="215" width="17" height="2"/>
<rect x="2066" y="215" width="21" height="2"/>
<rect x="241" y="381" width="17" height="2"/>
<rect x="2066" y="381" width="21" height="2"/>
<rect x="241" y="547" width="17" height="2"/>
<rect x="2066" y="547" width="21" height="2"/>
<rect x="241" y="713" width="17" height="2"/>
<rect x="2066" y="713" width="21" height="2"/>
<rect x="257" y="55" width="1" height="1"/>
<rect x="257" y="880" width="1" height="1"/>
</g>
<text class="tk" transform="translate(359.10,941.20) scale(0.9618,0.985)" font-size="56.2">200</text>
<text class="tk" transform="translate(525.80,941.20) scale(0.9519,0.985)" font-size="56.2">400</text>
<text class="tk" transform="translate(689.45,941.20) scale(0.9775,0.985)" font-size="56.2">600</text>
<text class="tk" transform="translate(856.68,941.20) scale(0.9707,0.985)" font-size="56.2">800</text>
<text class="tk" transform="translate(1008.22,941.20) scale(0.9445,0.985)" font-size="56.2">1000</text>
<text class="tk" transform="translate(1174.85,941.20) scale(0.9369,0.985)" font-size="56.2">1200</text>
<text class="tk" transform="translate(1341.51,941.20) scale(0.9226,0.985)" font-size="56.2">1400</text>
<text class="tk" transform="translate(1506.56,941.20) scale(0.9352,0.985)" font-size="56.2">1600</text>
<text class="tk" transform="translate(1672.86,941.20) scale(0.9352,0.985)" font-size="56.2">1800</text>
<text class="tk" transform="translate(1836.51,941.20) scale(0.9568,0.985)" font-size="56.2">2000</text>
<text class="tk" transform="translate(2002.20,941.20) scale(0.9593,0.985)" font-size="56.2">2200</text>
<text class="tk" transform="translate(165.98,70.10) scale(0.9312,0.985)" font-size="56.2">10</text>
<text class="tk" transform="translate(194.78,230.90) scale(0.9440,0.985)" font-size="56.2">5</text>
<text class="tk" transform="translate(195.01,396.90) scale(0.9316,0.985)" font-size="56.2">0</text>
<text class="tk" transform="translate(175.42,563.10) scale(0.9800,0.985)" font-size="56.2">-5</text>
<text class="tk" transform="translate(145.75,728.80) scale(0.9669,0.985)" font-size="56.2">-10</text>
<text class="tk" transform="translate(145.34,895.40) scale(0.9739,0.985)" font-size="56.2">-15</text>
<text transform="translate(1058.10,1038.20) scale(0.9958,1)" font-size="80.5">T/day</text>
<text transform="translate(98.0,798.08) rotate(-90) scale(1.0028,1)" font-size="82">Displacement/mm</text>
<text class="serif" font-size="86"><tspan x="1117.2" y="1156.6" stroke="none" textLength="23.5" lengthAdjust="spacingAndGlyphs">(</tspan><tspan x="1142.4" y="1157.0" font-weight="bold" font-size="89.5">b</tspan><tspan x="1194.9" y="1156.6" stroke="none" textLength="23.5" lengthAdjust="spacingAndGlyphs">)</tspan></text>
<text transform="translate(312.78,544.40) scale(1.0289,1)" font-size="80.5">gross</text>
<text transform="translate(312.82,637.80) scale(1.0180,1)" font-size="80.5">error</text>
<text transform="translate(1133.67,731.20) scale(0.9987,1)" font-size="80.5">missing data</text>
<text transform="translate(300.27,804.10) scale(0.9537,1)" font-size="83">EX2-21</text>
</svg>
</body></html>
